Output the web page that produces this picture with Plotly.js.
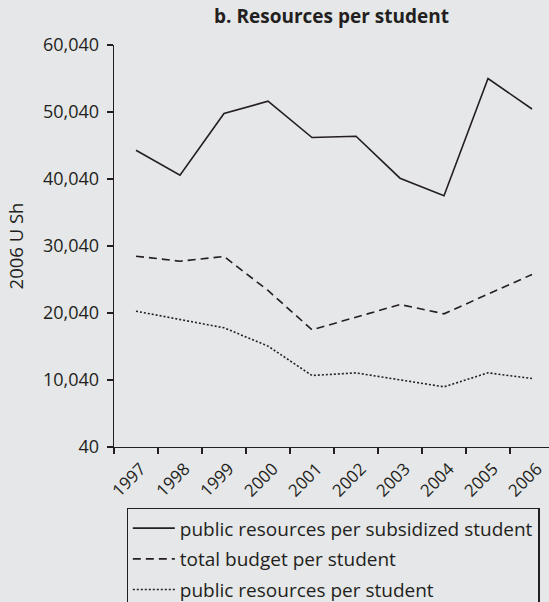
<!DOCTYPE html>
<html>
<head>
<meta charset="utf-8">
<script src="https://cdn.plot.ly/plotly-3.0.1.min.js"></script>
<style>
  html, body { margin: 0; padding: 0; background: #e6e7e8; }
  #chart { width: 549px; height: 602px; }
</style>
</head>
<body>
<div id="chart"></div>
<script>
var years = ['1997','1998','1999','2000','2001','2002','2003','2004','2005','2006'];
var subsidized = [44340, 40610, 49820, 51650, 46230, 46430, 40160, 37530, 55040, 50490];
var totalBudget = [28520, 27770, 28480, 23400, 17530, 19370, 21310, 19920, 22830, 25790];
var publicRes = [20310, 19070, 17830, 15100, 10710, 11100, 10110, 9020, 11110, 10260];
var yTickVals = [40, 10040, 20040, 30040, 40040, 50040, 60040];
var yTickText = ['40', '10,040', '20,040', '30,040', '40,040', '50,040', '60,040'];
var names = ['public resources per subsidized student', 'total budget per student', 'public resources per student'];

var ink = '#231f20';
var font = 'Open Sans, sans-serif';

var traces = [
  {x: years, y: subsidized, name: names[0], legendgroup: 'a', type: 'scatter', mode: 'lines',
   line: {color: ink, width: 1.6}},
  {x: years, y: totalBudget, name: names[1], legendgroup: 'b', type: 'scatter', mode: 'lines',
   line: {color: ink, width: 1.6, dash: '8px,5px'}},
  {x: years, y: publicRes, name: names[2], legendgroup: 'c', type: 'scatter', mode: 'lines',
   line: {color: ink, width: 1.6, dash: '2px,2px'}}
];

var layout = {
  width: 549, height: 602,
  paper_bgcolor: '#e6e7e8', plot_bgcolor: '#e6e7e8',
  margin: {l: 114, r: 0, t: 45, b: 155, autoexpand: false},
  font: {family: font, color: ink, size: 18},
  title: {text: '<b>b. Resources per student</b>', font: {family: font, size: 19, color: ink},
          x: 0.5, xref: 'paper', xanchor: 'center', y: 1 - 16/602, yref: 'container', yanchor: 'middle'},
  xaxis: {type: 'category', range: [-0.5, 9.386], tickson: 'boundaries',
          showline: true, linecolor: ink, linewidth: 1.3, ticks: 'outside', ticklen: 6, tickwidth: 1.3,
          tickcolor: ink, tickangle: -45, showgrid: false, zeroline: false,
          ticklabelstandoff: 4, ticklabelshift: 5,
          tickfont: {family: font, size: 17, color: ink}},
  yaxis: {range: [40, 60040], tickvals: yTickVals, ticktext: yTickText,
          showline: true, linecolor: ink, linewidth: 1.3, ticks: 'outside', ticklen: 6, tickwidth: 1.3,
          tickcolor: ink, showgrid: false, zeroline: false, ticklabelstandoff: 4,
          tickfont: {family: font, size: 18, color: ink},
          title: {text: '2006 U Sh', font: {family: font, size: 18.5, color: ink}, standoff: 14}},
  showlegend: true,
  legend: {x: 0.029, xanchor: 'left', y: -0.152, yanchor: 'top', traceorder: 'grouped',
           tracegroupgap: 3, itemwidth: 42, bgcolor: 'rgba(0,0,0,0)', bordercolor: ink, borderwidth: 1.2,
           font: {family: font, size: 19, color: ink}}
};

Plotly.newPlot('chart', traces, layout, {displayModeBar: false, staticPlot: true});
</script>
</body>
</html>
